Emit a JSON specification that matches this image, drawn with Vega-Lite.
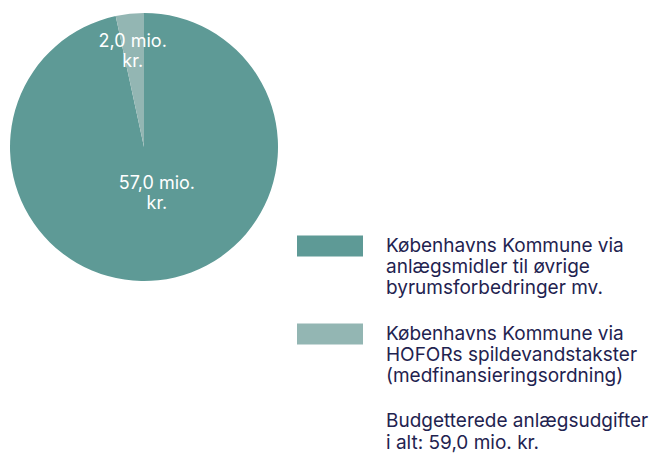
{
  "$schema": "https://vega.github.io/schema/vega-lite/v6.json",
  "padding": {"left": 10, "top": 13, "right": 0, "bottom": 0},
  "width": 268,
  "height": 268,
  "background": "white",
  "config": {"view": {"stroke": null}, "font": "Inter"},
  "title": {
    "text": ["Budgetterede anlægsudgifter", "i alt: 59,0 mio. kr."],
    "orient": "bottom",
    "anchor": "start",
    "dx": 376,
    "offset": 26,
    "fontSize": 19,
    "fontWeight": "normal",
    "font": "Inter",
    "color": "#1f2350",
    "lineHeight": 22
  },
  "data": {
    "values": [
      {"kategori": "Københavns Kommune via\nanlægsmidler til øvrige\nbyrumsforbedringer mv.", "value": 57.0, "label": "57,0 mio.\nkr.", "order": 1},
      {"kategori": "Københavns Kommune via\nHOFORs spildevandstakster\n(medfinansieringsordning)", "value": 2.0, "label": "2,0 mio.\nkr.", "order": 2}
    ]
  },
  "encoding": {
    "theta": {"field": "value", "type": "quantitative", "stack": true},
    "order": {"field": "order", "type": "quantitative"}
  },
  "layer": [
    {
      "mark": {"type": "arc", "outerRadius": 134},
      "encoding": {
        "color": {
          "field": "kategori",
          "type": "nominal",
          "sort": null,
          "scale": {"range": ["#5e9a96", "#93b6b3"]},
          "legend": {
            "orient": "none",
            "legendX": 287,
            "legendY": 200,
            "title": null,
            "padding": 0,
            "symbolType": "M-1,-0.318H1V0.318H-1Z",
            "symbolSize": 4356,
            "symbolStrokeWidth": 0,
            "symbolOpacity": 1,
            "labelExpr": "split(datum.label, '\\n')",
            "labelFontSize": 19,
            "labelFont": "Inter",
            "labelColor": "#1f2350",
            "labelOffset": 23,
            "labelLimit": 400,
            "labelBaseline": "middle",
            "rowPadding": 3
          }
        }
      }
    },
    {
      "mark": {
        "type": "text",
        "lineBreak": "\n",
        "fontSize": 18,
        "font": "Inter",
        "color": "white",
        "lineHeight": 20,
        "radius": {"expr": "datum.value < 5 ? 106 : 37"},
        "dx": {"expr": "datum.value < 5 ? 0 : 9"}
      },
      "encoding": {
        "text": {"field": "label", "type": "nominal"}
      }
    }
  ]
}
